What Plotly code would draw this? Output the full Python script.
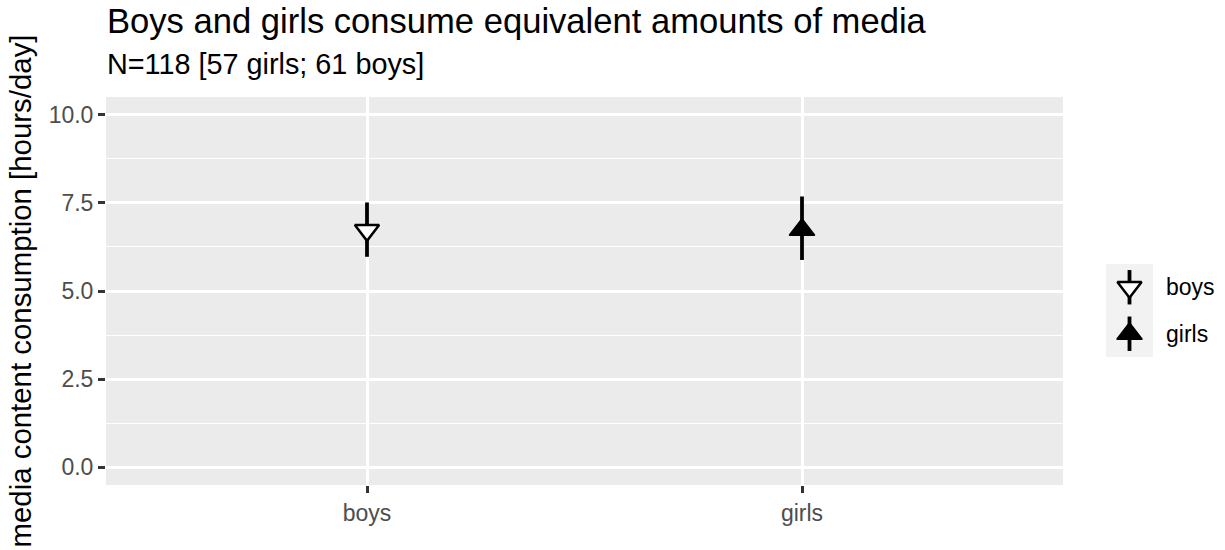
import plotly.graph_objects as go

# Group summaries: mean media consumption with lower/upper interval bounds (hours/day)
groups = ["boys", "girls"]
means = [6.72, 6.74]
lower = [5.97, 5.88]
upper = [7.51, 7.68]

y_ticks = [0.0, 2.5, 5.0, 7.5, 10.0]

title_text = "Boys and girls consume equivalent amounts of media"
subtitle_text = "N=118 [57 girls; 61 boys]"
y_title = "media content consumption [hours/day]"

FONT = "Liberation Sans, Arial, Helvetica, sans-serif"
PANEL_BG = "#EBEBEB"
KEY_BG = "#F2F2F2"

symbols = {"boys": "triangle-down", "girls": "triangle-up"}
fills = {"boys": "white", "girls": "black"}
sizes = {"boys": 21, "girls": 22}
lines = {"boys": 2.5, "girls": 1.5}

fig = go.Figure()

# Point ranges in the main panel
for g, m, lo, hi in zip(groups, means, lower, upper):
    fig.add_trace(go.Scatter(
        x=[g], y=[m], mode="markers", showlegend=False,
        marker=dict(symbol=symbols[g], size=sizes[g], color=fills[g],
                    line=dict(color="black", width=lines[g])),
        error_y=dict(type="data", symmetric=False, array=[hi - m],
                     arrayminus=[m - lo], width=0, thickness=3.8, color="black"),
        xaxis="x", yaxis="y",
    ))

# Legend keys drawn in a small side subplot: first group on top
key_rows = {g: len(groups) - 1 - i for i, g in enumerate(groups)}
for g in groups:
    fig.add_trace(go.Scatter(
        x=[0], y=[key_rows[g]], mode="markers", showlegend=False,
        marker=dict(symbol=symbols[g], size=sizes[g], color=fills[g],
                    line=dict(color="black", width=lines[g])),
        error_y=dict(type="constant", value=0.37, width=0, thickness=3.8, color="black"),
        xaxis="x2", yaxis="y2",
    ))

W, H = 1225, 550
ml, mr, mt, mb = 106, 10, 97, 65
pw = W - ml - mr
ph = H - mt - mb
panel_right = 1063
key_l, key_r = 1106, 1153
key_t, key_b = 264, 357

fig.update_layout(
    width=W, height=H,
    margin=dict(l=ml, r=mr, t=mt, b=mb, pad=0),
    paper_bgcolor="white",
    plot_bgcolor=PANEL_BG,
    font=dict(family=FONT, color="black"),
    showlegend=False,
    xaxis=dict(
        domain=[0, (panel_right - ml) / pw],
        type="category", categoryorder="array", categoryarray=groups,
        range=[-0.6, 1.6],
        showgrid=True, gridcolor="white", gridwidth=2.8,
        zeroline=False, showline=False,
        ticks="outside", ticklen=7, tickwidth=2.8, tickcolor="#333333",
        tickfont=dict(size=23, color="#4D4D4D", family=FONT),
        anchor="y",
    ),
    yaxis=dict(
        domain=[0, 1],
        range=[-0.5, 10.5],
        tickvals=y_ticks, tickformat=".1f",
        showgrid=True, gridcolor="white", gridwidth=2.8,
        minor=dict(tick0=1.25, dtick=2.5, showgrid=True, gridcolor="white", gridwidth=1.4),
        zeroline=False, showline=False,
        ticks="outside", ticklen=7, tickwidth=2.8, tickcolor="#333333",
        tickfont=dict(size=23, color="#4D4D4D", family=FONT),
        title=dict(text=y_title, font=dict(size=29.4, color="black", family=FONT), standoff=8),
        anchor="x",
    ),
    xaxis2=dict(
        domain=[(key_l - ml) / pw, (key_r - ml) / pw],
        range=[-1, 1], visible=False, anchor="y2",
    ),
    yaxis2=dict(
        domain=[(H - mb - key_b) / ph, (H - mb - key_t) / ph],
        range=[-0.5, len(groups) - 0.5],
        tickvals=[key_rows[g] for g in groups], ticktext=groups,
        showgrid=False, zeroline=False, showline=False,
        side="right", ticks="", ticklabelstandoff=12,
        tickfont=dict(size=23, color="black", family=FONT),
        anchor="x2",
    ),
    shapes=[dict(
        type="rect", xref="x2 domain", yref="y2 domain",
        x0=0, x1=1, y0=0, y1=1, fillcolor=KEY_BG, line=dict(width=0), layer="below",
    )],
    annotations=[
        dict(text=title_text, xref="paper", yref="paper", x=0, y=1,
             xanchor="left", yanchor="middle", xshift=-1, yshift=mt - 21.3,
             showarrow=False, font=dict(size=34.6, color="black", family=FONT)),
        dict(text=subtitle_text, xref="paper", yref="paper", x=0, y=1,
             xanchor="left", yanchor="middle", xshift=-1, yshift=mt - 64.3,
             showarrow=False, font=dict(size=28.8, color="black", family=FONT)),
    ],
)

fig.write_html("out.html")
